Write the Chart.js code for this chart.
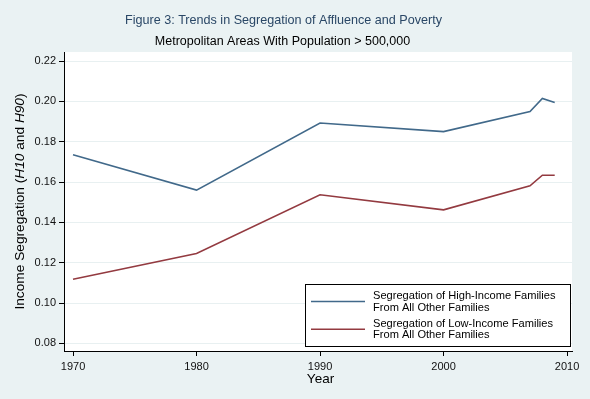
<!DOCTYPE html>
<html>
<head>
<meta charset="utf-8">
<script src="https://cdn.jsdelivr.net/npm/chart.js@4.4.1/dist/chart.umd.min.js"></script>
<style>
html,body{margin:0;padding:0;background:#eaf2f3;}
#wrap{width:590px;height:399px;}
</style>
</head>
<body>
<div id="wrap"><canvas id="c" width="590" height="399"></canvas></div>
<script>
const years = [1970, 1980, 1990, 2000, 2007, 2008, 2009];
const highIncome = [0.1735, 0.1560, 0.1893, 0.1850, 0.1950, 0.2015, 0.1995];
const lowIncome = [0.1118, 0.1246, 0.1537, 0.1462, 0.1581, 0.1634, 0.1634];
const xTickValues = [1970, 1980, 1990, 2000, 2010];
const yTickValues = [0.08, 0.10, 0.12, 0.14, 0.16, 0.18, 0.20, 0.22];
const seriesLabels = [
  ["Segregation of High-Income Families", "From All Other Families"],
  ["Segregation of Low-Income Families", "From All Other Families"]
];
const titleText = "Figure 3: Trends in Segregation of Affluence and Poverty";
const subtitleText = "Metropolitan Areas With Population > 500,000";
const xTitle = "Year";

const FONT = "'Liberation Sans', Arial, Helvetica, sans-serif";
const BG = '#eaf2f3';
const BLUE = '#41698a';
const RED = '#933a40';

const decor = {
  id: 'decor',
  beforeDraw(chart) {
    const ctx = chart.ctx, a = chart.chartArea;
    ctx.save();
    ctx.fillStyle = BG;
    ctx.fillRect(0, 0, chart.width, chart.height);
    ctx.fillStyle = '#ffffff';
    ctx.fillRect(a.left, a.top, a.right - a.left, a.bottom - a.top);
    ctx.restore();
  },
  afterDraw(chart) {
    const ctx = chart.ctx;
    ctx.save();
    // titles
    ctx.textAlign = 'center';
    ctx.textBaseline = 'middle';
    ctx.fillStyle = '#2a4766';
    ctx.font = '12.6px ' + FONT;
    ctx.fillText(titleText, 283.5, 21);
    ctx.fillStyle = '#000000';
    ctx.font = '12.5px ' + FONT;
    ctx.fillText(subtitleText, 282.5, 42);
    // x title
    ctx.font = '13.5px ' + FONT;
    ctx.fillText(xTitle, 320.5, 379);
    // y title with italic parts
    const parts = [
      ['Income Segregation (', false],
      ['H10', true],
      [' and ', false],
      ['H90', true],
      [')', false]
    ];
    const ys = '13.7px ';
    let total = 0;
    parts.forEach(p => { ctx.font = (p[1] ? 'italic ' : '') + ys + FONT; total += ctx.measureText(p[0]).width; });
    ctx.translate(20, 201.5);
    ctx.rotate(-Math.PI / 2);
    ctx.textAlign = 'left';
    let x = -total / 2;
    parts.forEach(p => {
      ctx.font = (p[1] ? 'italic ' : '') + ys + FONT;
      ctx.fillText(p[0], x, 0);
      x += ctx.measureText(p[0]).width;
    });
    ctx.restore();

    // legend
    ctx.save();
    const lx = 305.5, ly = 284.5, lw = 265, lh = 62;
    ctx.fillStyle = '#ffffff';
    ctx.fillRect(lx, ly, lw, lh);
    ctx.strokeStyle = '#000000';
    ctx.lineWidth = 1;
    ctx.strokeRect(lx, ly, lw, lh);
    ctx.font = '11.1px ' + FONT;
    ctx.textAlign = 'left';
    ctx.textBaseline = 'middle';
    chart.data.datasets.forEach((ds, i) => {
      const cy = 301.5 + i * 27.8;
      ctx.strokeStyle = ds.borderColor;
      ctx.lineWidth = 1.6;
      ctx.beginPath();
      ctx.moveTo(311, cy);
      ctx.lineTo(365, cy);
      ctx.stroke();
      ctx.fillStyle = '#000000';
      ctx.fillText(seriesLabels[i][0], 373, cy - 5.5);
      ctx.fillText(seriesLabels[i][1], 373, cy + 6);
    });
    ctx.restore();
  }
};

new Chart(document.getElementById('c'), {
  type: 'line',
  data: {
    datasets: [
      {
        label: seriesLabels[0].join(' '),
        data: years.map((y, i) => ({ x: y, y: highIncome[i] })),
        borderColor: BLUE,
        borderWidth: 1.6,
        pointRadius: 0,
        tension: 0,
        fill: false
      },
      {
        label: seriesLabels[1].join(' '),
        data: years.map((y, i) => ({ x: y, y: lowIncome[i] })),
        borderColor: RED,
        borderWidth: 1.6,
        pointRadius: 0,
        tension: 0,
        fill: false
      }
    ]
  },
  options: {
    responsive: false,
    animation: false,
    devicePixelRatio: 1,
    layout: { padding: { top: 52, right: 18, left: 0, bottom: 0 } },
    plugins: {
      legend: { display: false },
      title: { display: false },
      tooltip: { enabled: false }
    },
    scales: {
      x: {
        type: 'linear',
        min: 1969.27,
        max: 2010.4,
        afterBuildTicks(axis) { axis.ticks = xTickValues.map(v => ({ value: v })); },
        afterFit(axis) { axis.height = 48; },
        grid: { drawOnChartArea: false, drawTicks: true, tickLength: 5, tickColor: '#000000', tickWidth: 1 },
        border: { display: true, color: '#000000', width: 1 },
        ticks: {
          color: '#111111',
          font: { family: FONT, size: 11 },
          padding: 4,
          maxRotation: 0,
          autoSkip: false,
          callback: v => String(v)
        }
      },
      y: {
        type: 'linear',
        min: 0.0762,
        max: 0.2245,
        afterBuildTicks(axis) { axis.ticks = yTickValues.map(v => ({ value: v })); },
        afterFit(axis) { axis.width = 64; },
        grid: { drawOnChartArea: true, color: '#e8f0f1', lineWidth: 1, drawTicks: true, tickLength: 5, tickColor: '#000000' },
        border: { display: true, color: '#000000', width: 1 },
        ticks: {
          color: '#111111',
          font: { family: FONT, size: 11 },
          padding: 3,
          autoSkip: false,
          callback: v => v.toFixed(2)
        }
      }
    }
  },
  plugins: [decor]
});
</script>
</body>
</html>
